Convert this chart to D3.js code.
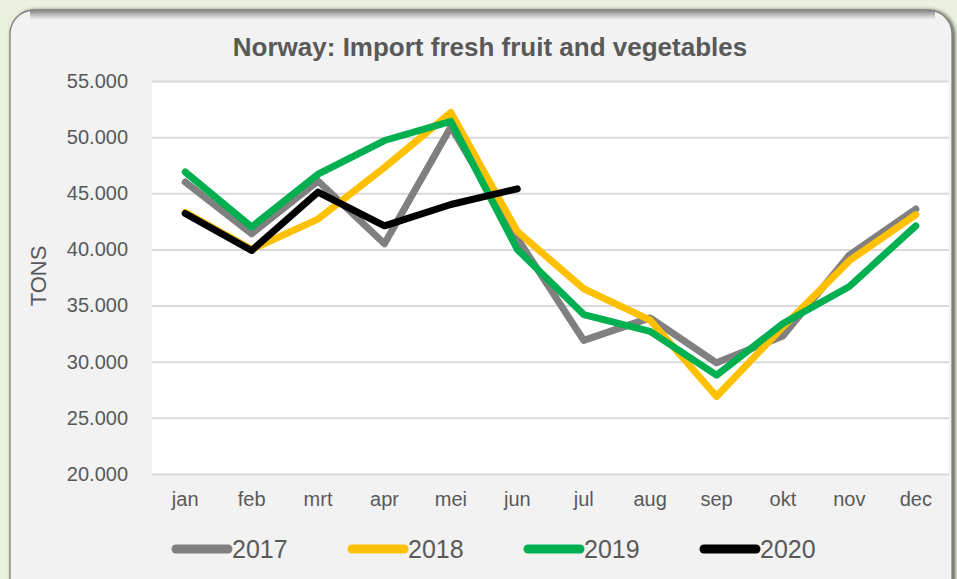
<!DOCTYPE html>
<html>
<head>
<meta charset="utf-8">
<script src="https://cdn.jsdelivr.net/npm/d3@7"></script>
<style>
  html, body { margin: 0; padding: 0; background: #ebf1de; }
  svg { display: block; font-family: "Liberation Sans", Arial, sans-serif; }
</style>
</head>
<body>
<div id="chart"></div>
<script>
const months = ["jan", "feb", "mrt", "apr", "mei", "jun", "jul", "aug", "sep", "okt", "nov", "dec"];
const years = ["2017", "2018", "2019", "2020"];
const colors = ["#808080", "#ffc000", "#00b050", "#000000"];

const v2017 = [46000, 41400, 46100, 40500, 50900, 41000, 31900, 33900, 29900, 32300, 39500, 43600];
const v2018 = [43300, 40000, 42700, 47300, 52200, 41600, 36500, 33700, 26900, 33100, 39000, 43100];
const v2019 = [46900, 42000, 46700, 49700, 51400, 40000, 34200, 32700, 28800, 33400, 36700, 42100];
const v2020 = [43200, 39900, 45100, 42100, 44000, 45400];

const yTicks = [20000, 25000, 30000, 35000, 40000, 45000, 50000, 55000];

const series = [v2017, v2018, v2019, v2020];

const width = 957, height = 579;
const plot = {left: 152, right: 949, top: 81, bottom: 474};

const svg = d3.select("#chart").append("svg")
  .attr("width", width)
  .attr("height", height);

const defs = svg.append("defs");
const shadow = defs.append("filter").attr("id", "shadow")
  .attr("x", "-5%").attr("y", "-5%").attr("width", "110%").attr("height", "110%");
shadow.append("feGaussianBlur").attr("in", "SourceAlpha").attr("stdDeviation", 2);
shadow.append("feOffset").attr("dx", 2).attr("dy", 1).attr("result", "blur");
shadow.append("feComponentTransfer").append("feFuncA").attr("type", "linear").attr("slope", 0.7);
const merge = shadow.append("feMerge");
merge.append("feMergeNode");
merge.append("feMergeNode").attr("in", "SourceGraphic");

const topShade = defs.append("linearGradient").attr("id", "topShade")
  .attr("x1", 0).attr("y1", 0).attr("x2", 0).attr("y2", 1);
topShade.append("stop").attr("offset", "0%").attr("stop-color", "#6f6f6f");
topShade.append("stop").attr("offset", "100%").attr("stop-color", "#f2f2f2");

// panel
svg.append("rect")
  .attr("x", 10).attr("y", 10)
  .attr("width", 942).attr("height", 600)
  .attr("rx", 24).attr("ry", 24)
  .attr("fill", "#f2f2f2")
  .attr("stroke", "#7f7f7f")
  .attr("stroke-width", 1.3)
  .attr("filter", "url(#shadow)");

svg.append("rect")
  .attr("x", 30).attr("y", 10.5)
  .attr("width", 905).attr("height", 9)
  .attr("fill", "url(#topShade)")
  .attr("opacity", 0.8);

const x = d3.scaleBand().domain(months).range([plot.left, plot.right]);
const y = d3.scaleLinear().domain([20000, 55000]).range([plot.bottom, plot.top]);

svg.append("rect")
  .attr("x", plot.left).attr("y", plot.top)
  .attr("width", plot.right - plot.left).attr("height", plot.bottom - plot.top)
  .attr("fill", "#ffffff");

const fmt = d => d3.format(",.0f")(d).replace(/,/g, ".");

const yAxis = svg.append("g")
  .attr("transform", `translate(${plot.left},0)`)
  .call(d3.axisLeft(y).tickValues(yTicks).tickSize(-(plot.right - plot.left)).tickPadding(24).tickFormat(fmt));
yAxis.select(".domain").remove();
yAxis.selectAll("line").attr("stroke", "#d9d9d9").attr("stroke-width", 2);
yAxis.selectAll("text")
  .attr("fill", "#595959")
  .style("font-size", "20px")
  .style("font-family", "'Liberation Sans', Arial, sans-serif");

const xAxis = svg.append("g")
  .attr("transform", `translate(0,${plot.bottom})`)
  .call(d3.axisBottom(x).tickSize(0).tickPadding(18));
xAxis.select(".domain").remove();
xAxis.selectAll("text")
  .attr("fill", "#595959")
  .style("font-size", "20px")
  .style("font-family", "'Liberation Sans', Arial, sans-serif");

const line = d3.line()
  .x((d, i) => x(months[i]) + x.bandwidth() / 2)
  .y(d => y(d));

svg.append("g").selectAll("path")
  .data(series)
  .join("path")
  .attr("d", d => line(d))
  .attr("fill", "none")
  .attr("stroke", (d, i) => colors[i])
  .attr("stroke-width", 7)
  .attr("stroke-linecap", "round")
  .attr("stroke-linejoin", "round");

svg.append("text")
  .attr("x", 490).attr("y", 56)
  .attr("text-anchor", "middle")
  .attr("fill", "#595959")
  .style("font-size", "26px")
  .style("font-weight", "bold")
  .text("Norway: Import fresh fruit and vegetables");

svg.append("text")
  .attr("transform", "translate(46,276) rotate(-90)")
  .attr("text-anchor", "middle")
  .attr("fill", "#595959")
  .style("font-size", "22px")
  .text("TONS");

const legend = svg.append("g").selectAll("g")
  .data(years)
  .join("g")
  .attr("transform", (d, i) => `translate(${176 + i * 176},549)`);
legend.append("line")
  .attr("x1", 0).attr("x2", 52)
  .attr("stroke", (d, i) => colors[i])
  .attr("stroke-width", 9)
  .attr("stroke-linecap", "round");
legend.append("text")
  .attr("x", 56).attr("dy", "0.36em")
  .attr("fill", "#595959")
  .style("font-size", "25px")
  .text(d => d);
</script>
</body>
</html>
